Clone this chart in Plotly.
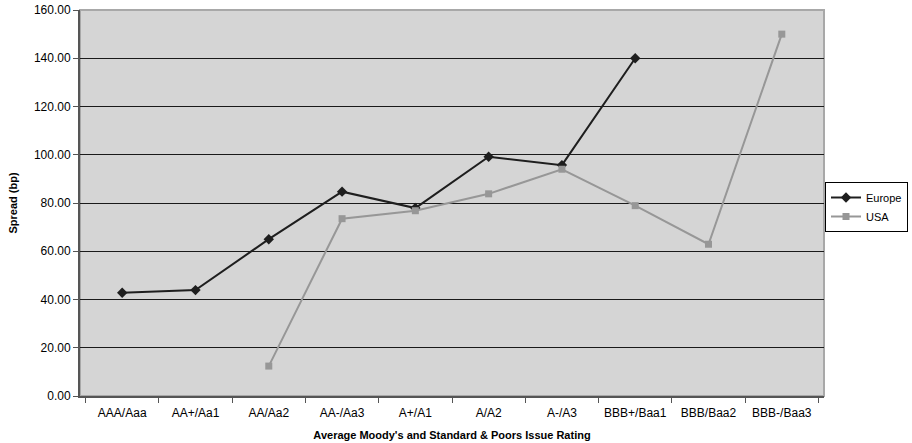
import plotly.graph_objects as go

ratings = ["AAA/Aaa", "AA+/Aa1", "AA/Aa2", "AA-/Aa3", "A+/A1", "A/A2",
           "A-/A3", "BBB+/Baa1", "BBB/Baa2", "BBB-/Baa3"]
europe = [42.8, 43.9, 65.0, 84.7, 77.9, 99.2, 95.7, 140.0, None, None]
usa = [None, None, 12.4, 73.5, 76.8, 83.8, 94.0, 78.9, 62.9, 150.0]
y_ticks = [0, 20, 40, 60, 80, 100, 120, 140, 160]

font = "Liberation Sans, Arial, Helvetica, sans-serif"

fig = go.Figure()
fig.add_trace(go.Scatter(
    x=ratings, y=europe, name="Europe", mode="lines+markers",
    line=dict(color="#1e1e1e", width=2),
    marker=dict(symbol="diamond", size=8, color="#1e1e1e"),
))
fig.add_trace(go.Scatter(
    x=ratings, y=usa, name="USA", mode="lines+markers",
    line=dict(color="#979797", width=2),
    marker=dict(symbol="square", size=7, color="#979797"),
))

# light grey frame around the plotting area
fig.add_shape(type="rect", xref="paper", yref="paper", x0=0, x1=1, y0=0, y1=1,
              line=dict(color="#a8a8a8", width=2), layer="below")

plot_w = 912 - 80 - 88
plot_h = 443 - 10 - 47

fig.update_layout(
    width=912, height=443,
    margin=dict(l=80, r=88, t=10, b=47, autoexpand=False),
    paper_bgcolor="white",
    plot_bgcolor="#d5d5d5",
    font=dict(family=font, size=12, color="black"),
    showlegend=True,
    legend=dict(x=(908 - 80) / plot_w, y=(396 - 182) / plot_h,
                xanchor="right", yanchor="top",
                bordercolor="black", borderwidth=1, bgcolor="white",
                font=dict(size=11), tracegroupgap=0,
                itemwidth=30),
)
fig.update_xaxes(
    type="category", categoryorder="array", categoryarray=ratings,
    automargin=False,
    showgrid=False, showline=True, linecolor="#555555", linewidth=2,
    ticks="outside", tickson="boundaries", ticklen=5, tickcolor="#555555",
    tickangle=0, tickfont=dict(size=12), ticklabelstandoff=5,
    title=dict(text="<b>Average Moody's and Standard & Poors Issue Rating</b>",
               font=dict(size=11), standoff=12),
)
fig.update_yaxes(
    range=[0, 160], tickvals=y_ticks, tickformat=".2f",
    automargin=False,
    showgrid=True, gridcolor="#1a1a1a", gridwidth=1,
    zeroline=False, showline=True, linecolor="#555555", linewidth=2,
    ticks="outside", ticklen=5, tickcolor="#555555",
    tickfont=dict(size=12),
    title=dict(text="<b>Spread (bp)</b>", font=dict(size=11), standoff=14),
)

fig.write_html("out.html")
